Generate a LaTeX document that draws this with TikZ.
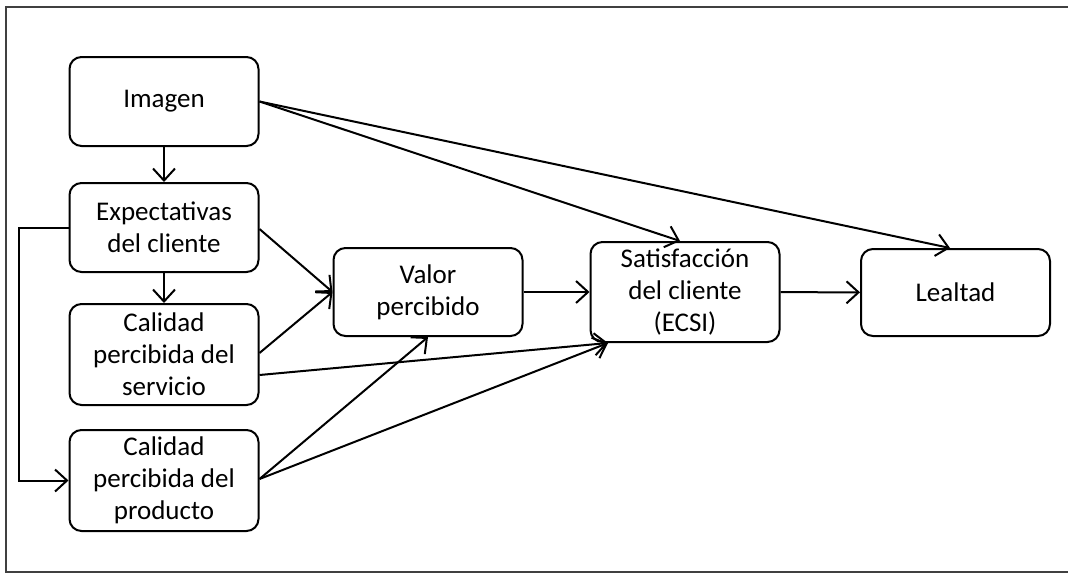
\documentclass[tikz,border=0pt]{standalone}
\usepackage{fontspec}
\setmainfont{Carlito}
\usetikzlibrary{arrows.meta}
\tikzset{
    box/.style={draw, rounded corners=12pt, line width=2pt, align=center,
        minimum width=189pt, font=\fontsize{27}{32}\selectfont},
    link/.style={-{Straight Barb[length=12pt,width=22pt,line width=2pt]}, line width=2pt}
}
\begin{document}
\begin{tikzpicture}[x=1pt, y=-1pt]
    \useasboundingbox (0,0) rectangle (1068,573);
    % Outer frame (open to the right)
    \draw[line width=2.5pt, black!75] (1068,7) -- (6,7) -- (6,572) -- (1068,572);

    % Boxes
    \node (img) [box, minimum height=89pt] at (164,101.5) {Imagen};
    \node (exp) [box, minimum height=89pt] at (164,227.5) {Expectativas\\del cliente};
    \node (cser) [box, minimum height=101pt] at (164,354.5) {Calidad\\percibida del\\servicio};
    \node (cpro) [box, minimum height=101pt] at (164,480.5) {Calidad\\percibida del\\producto};
    \node (val) [box, minimum height=88pt] at (428,292) {Valor\\percibido};
    \node (sat) [box, minimum height=100pt] at (685,292) {Satisfacción\\del cliente\\(ECSI)};
    \node (leal) [box, minimum height=87pt] at (955.5,292.5) {Lealtad};

    % Connectors
    \draw[link] (img) -- (exp);
    \draw[link] (exp) -- (cser);
    \draw[link] (exp.west) -- ++(-50,0) |- (cpro.west);
    \draw[link] (exp.east |- 0,229) -- (val.west);
    \draw[link] (cser.east |- 0,353) -- (val.west);
    \draw[link] (cser.east |- 0,375) -- (sat.south west -| 608,0);
    \draw[link] (cpro.east |- 0,479) -- (val.south);
    \draw[link] (cpro.east |- 0,479) -- (sat.south west -| 608,0);
    \draw[link] (val) -- (sat);
    \draw[link] (sat) -- (leal);
    \draw[link] (img.east) -- (sat.north -| 680,0);
    \draw[link] (img.east) -- (leal.north -| 950,0);
\end{tikzpicture}
\end{document}
